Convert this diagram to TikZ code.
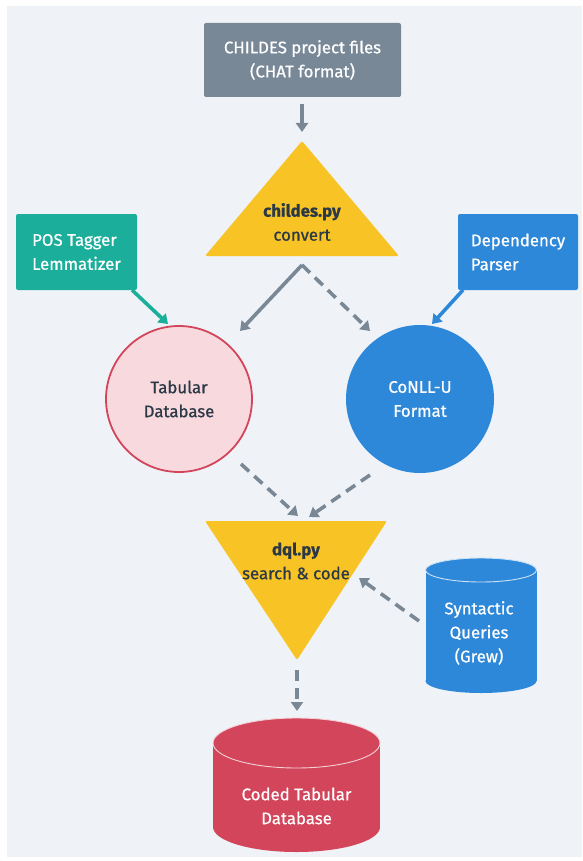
\documentclass[tikz,border=0pt]{standalone}
\usepackage{fontspec}
\setmainfont{Fira Sans}[FakeBold=0.7]
\usetikzlibrary{arrows.meta}
\definecolor{bgc}{HTML}{EFF3F7}
\definecolor{slate}{HTML}{798897}
\definecolor{sun}{HTML}{F7C325}
\definecolor{teal}{HTML}{1BAE9B}
\definecolor{azure}{HTML}{2E88D9}
\definecolor{rose}{HTML}{D3455B}
\definecolor{blush}{HTML}{F8D9DE}
\definecolor{ink}{HTML}{2B3946}
\definecolor{arrowc}{HTML}{7A8896}
\begin{document}
\begin{tikzpicture}[x=1pt,y=-1pt,
  lbl/.style={font=\fontsize{16.8}{24}\selectfont, inner sep=0pt},
  boxnode/.style={lbl, rounded corners=2pt, minimum height=76pt, text=white},
  conn/.style={line width=3.6pt, -{Triangle[width=12pt,length=9pt]}},
  dconn/.style={conn, color=arrowc, dash pattern=on 11pt off 7pt}
]
\useasboundingbox (0,0) rectangle (582,861);
\fill[white] (0,0) rectangle (582,861);
\fill[bgc] (7,6) rectangle (582,857);

% source box
\node[boxnode, fill=slate, minimum width=197pt, minimum height=74pt, align=center] (src) at (302.5,60) {CHILDES project files\\(CHAT format)};

% childes triangle
\fill[sun, rounded corners=2pt] (302,141) -- (399,256) -- (205,256) -- cycle;
\node[lbl, align=center, text=ink] (childes) at (302,222) {\textbf{childes.py}\\convert};

% side boxes
\node[boxnode, fill=teal, minimum width=121pt, align=left] (pos) at (76.5,252) {POS Tagger\\Lemmatizer};
\node[boxnode, fill=azure, minimum width=120pt, align=left] (dep) at (518,252) {Dependency\\Parser};

% circles
\node[circle, minimum size=146pt, fill=blush, draw=rose, line width=1.8pt, lbl, align=center, text=ink] (tab) at (179,399) {Tabular\\Database};
\node[circle, minimum size=148pt, fill=azure, lbl, align=center, text=white] (conll) at (420,399) {CoNLL-U\\Format};

% dql triangle
\fill[sun, rounded corners=2pt] (205,521) -- (387,521) -- (297,660) -- cycle;
\node[lbl, align=center, text=ink] (dql) at (296,561) {\textbf{dql.py}\\search \& code};

% syntactic cylinder
\fill[azure] (481,681) ellipse [x radius=55.5, y radius=12];
\fill[azure] (425.5,570) rectangle (536.5,681);
\fill[azure] (481,570) ellipse [x radius=55.5, y radius=12];
\draw[white!75!azure, line width=0.9pt] (481,570) ellipse [x radius=55.5, y radius=12];
\node[lbl, align=center, text=white] (syn) at (479,633) {Syntactic\\Queries\\(Grew)};

% coded cylinder
\fill[rose] (296.5,827) ellipse [x radius=83.5, y radius=25];
\fill[rose] (213,743) rectangle (380,827);
\fill[rose] (296.5,743) ellipse [x radius=83.5, y radius=25];
\draw[white!75!rose, line width=0.9pt] (296.5,743) ellipse [x radius=83.5, y radius=25];
\node[lbl, align=center, text=white] (coded) at (296.5,806) {Coded Tabular\\Database};

% connector end points
\coordinate (s1) at (302,104); \coordinate (e1) at (302,132);
\coordinate (apex) at (302,265);
\coordinate (tabin) at (240,331); \coordinate (conin) at (370,331);
\coordinate (posout) at (132,290); \coordinate (posin) at (168,324);
\coordinate (depout) at (463,290); \coordinate (depin) at (432,324);
\coordinate (tabout) at (241,464); \coordinate (dqlinl) at (298,516);
\coordinate (conout) at (370,475); \coordinate (dqlinr) at (309,517);
\coordinate (synout) at (419,621); \coordinate (dqlins) at (359,578);
\coordinate (dqlout) at (297,670); \coordinate (codin) at (297,711);

\draw[conn, color=arrowc] (s1) -- (e1);
\draw[conn, color=arrowc] (apex) -- (tabin);
\draw[dconn] (apex) -- (conin);
\draw[conn, color=teal] (posout) -- (posin);
\draw[conn, color=azure] (depout) -- (depin);
\draw[dconn] (tabout) -- (dqlinl);
\draw[dconn] (conout) -- (dqlinr);
\draw[dconn] (synout) -- (dqlins);
\draw[dconn] (dqlout) -- (codin);
\end{tikzpicture}
\end{document}
